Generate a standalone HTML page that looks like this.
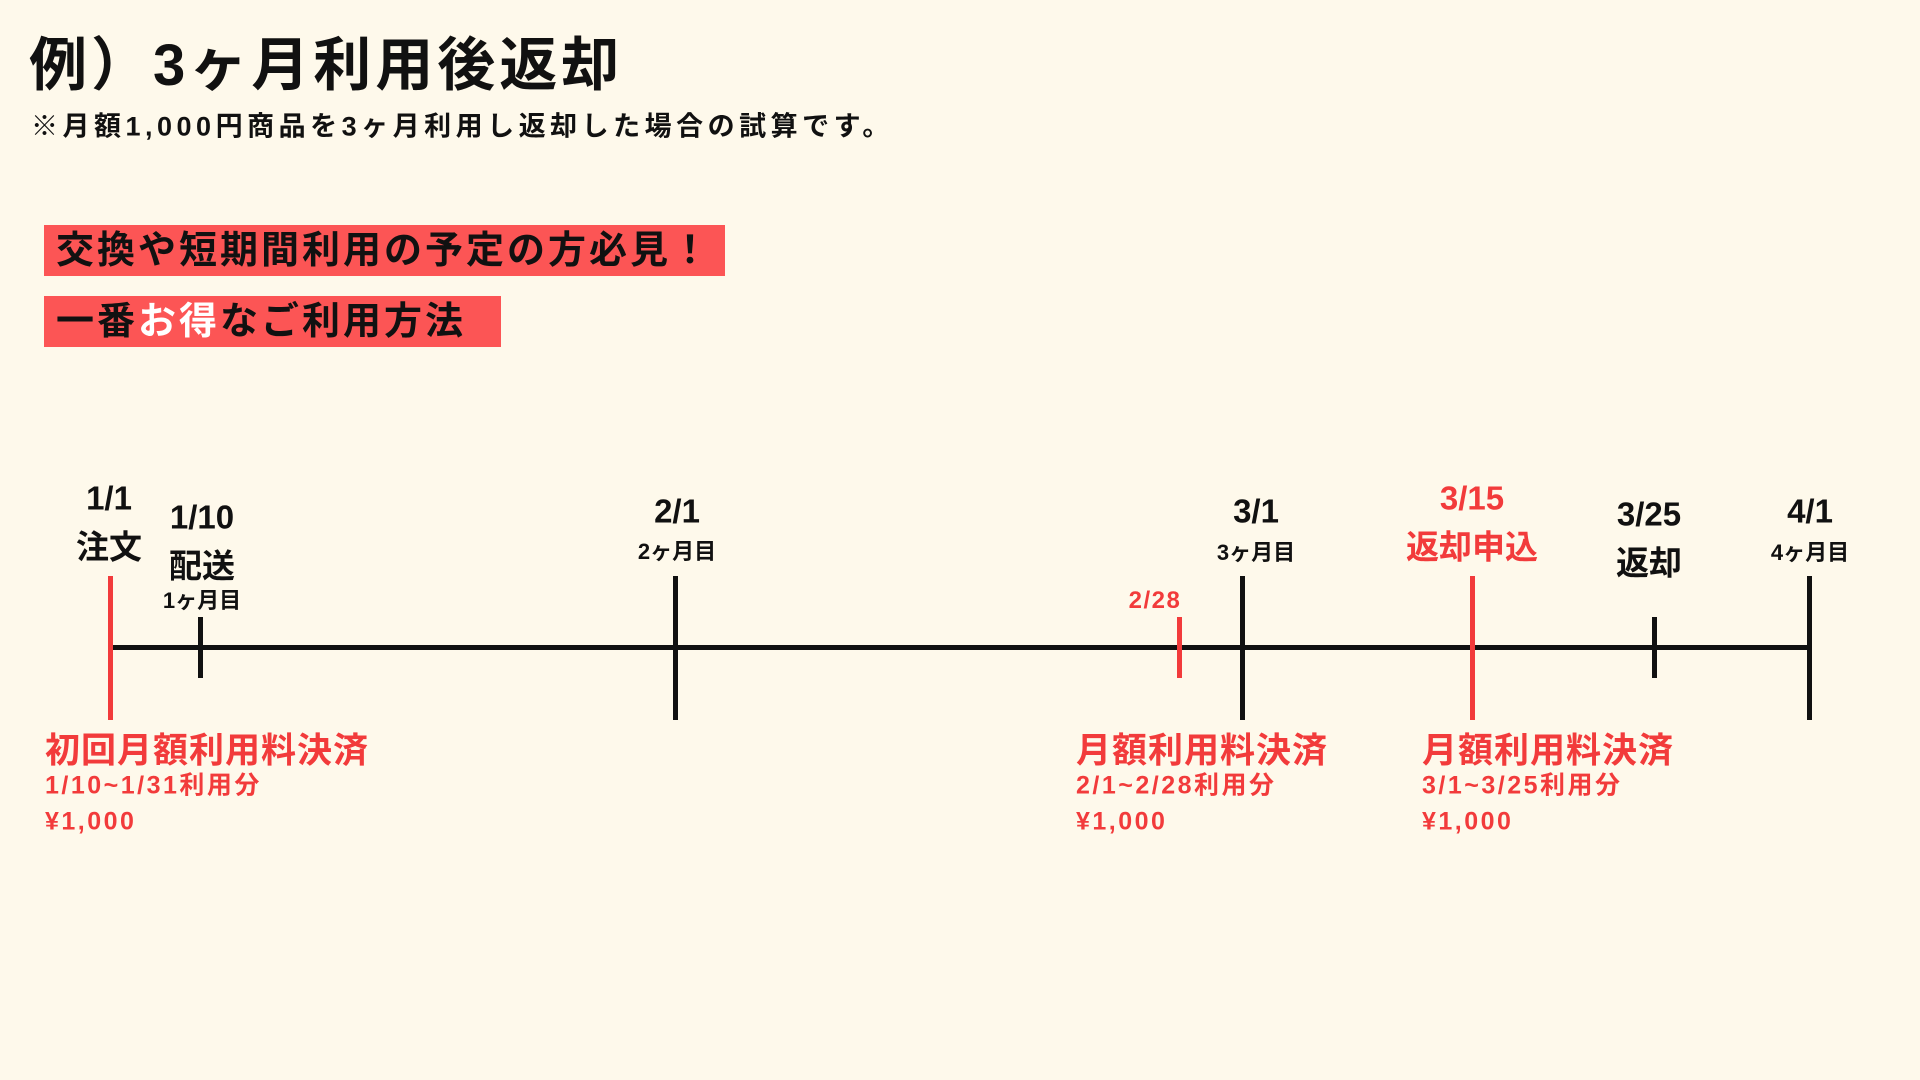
<!DOCTYPE html>
<html><head><meta charset="utf-8"><style>
body{margin:0;width:1920px;height:1080px;background:#fef9eb;position:relative;overflow:hidden;font-family:"Liberation Sans","Noto Sans CJK JP",sans-serif;font-weight:bold;color:#111}
.a{position:absolute;white-space:nowrap;line-height:1}
.c{transform:translate(-50%,-50%)}
.l{transform:translate(0,-50%)}
.r{color:#f23b3b}
.v{position:absolute;width:5px;margin-left:-2px;background:#111}
.box{position:absolute;background:#fc5555;height:51px;left:44px;font-size:38px;line-height:53px;padding-left:12px;box-sizing:border-box;letter-spacing:3px;white-space:nowrap;color:#111}
</style></head><body>
<div class="a l" style="left:29px;top:66px;font-size:58px;letter-spacing:4px">例）3ヶ月利用後返却</div>
<div class="a l" style="left:31px;top:127px;font-size:27px;letter-spacing:4.5px">※月額1,000円商品を3ヶ月利用し返却した場合の試算です。</div>
<div class="box" style="top:225px;width:681px">交換や短期間利用の予定の方必見！</div>
<div class="box" style="top:296px;width:457px"><span style="display:inline-block">一番</span><span style="display:inline-block;color:#ffffff">お得</span><span style="display:inline-block">なご利用方法</span></div>

<div style="position:absolute;left:110px;width:1700px;top:645px;height:5px;background:#111"></div>
<div class="v" style="left:110px;top:576px;height:144px;background:#f23b3b"></div>
<div class="v" style="left:200px;top:617px;height:61px"></div>
<div class="v" style="left:675px;top:576px;height:144px"></div>
<div class="v" style="left:1179px;top:617px;height:61px;background:#f23b3b"></div>
<div class="v" style="left:1242px;top:576px;height:144px"></div>
<div class="v" style="left:1472px;top:576px;height:144px;background:#f23b3b"></div>
<div class="v" style="left:1654px;top:617px;height:61px"></div>
<div class="v" style="left:1809px;top:576px;height:144px"></div>

<div class="a c" style="left:109px;top:498px;font-size:33px">1/1</div>
<div class="a c" style="left:109px;top:547px;font-size:33px">注文</div>
<div class="a c" style="left:202px;top:517px;font-size:33px">1/10</div>
<div class="a c" style="left:202px;top:566px;font-size:33px">配送</div>
<div class="a c" style="left:202px;top:601px;font-size:22px">1ヶ月目</div>
<div class="a c" style="left:677px;top:511px;font-size:33px">2/1</div>
<div class="a c" style="left:677px;top:552px;font-size:22px">2ヶ月目</div>
<div class="a c r" style="left:1155px;top:601px;font-size:24px;letter-spacing:1.5px">2/28</div>
<div class="a c" style="left:1256px;top:511px;font-size:33px">3/1</div>
<div class="a c" style="left:1256px;top:553px;font-size:22px">3ヶ月目</div>
<div class="a c r" style="left:1472px;top:498px;font-size:33px">3/15</div>
<div class="a c r" style="left:1472px;top:547px;font-size:33px">返却申込</div>
<div class="a c" style="left:1649px;top:514px;font-size:33px">3/25</div>
<div class="a c" style="left:1649px;top:563px;font-size:33px">返却</div>
<div class="a c" style="left:1810px;top:553px;font-size:22px">4ヶ月目</div>
<div class="a c" style="left:1810px;top:511px;font-size:33px">4/1</div>

<div class="a l r" style="left:45px;top:751px;font-size:35px;letter-spacing:1px">初回月額利用料決済</div>
<div class="a l r" style="left:45px;top:786px;font-size:25px;letter-spacing:2.5px">1/10~1/31利用分</div>
<div class="a l r" style="left:45px;top:822px;font-size:25px;letter-spacing:2.5px">¥1,000</div>
<div class="a l r" style="left:1076px;top:751px;font-size:35px;letter-spacing:1px">月額利用料決済</div>
<div class="a l r" style="left:1076px;top:786px;font-size:25px;letter-spacing:2.5px">2/1~2/28利用分</div>
<div class="a l r" style="left:1076px;top:822px;font-size:25px;letter-spacing:2.5px">¥1,000</div>
<div class="a l r" style="left:1422px;top:751px;font-size:35px;letter-spacing:1px">月額利用料決済</div>
<div class="a l r" style="left:1422px;top:786px;font-size:25px;letter-spacing:2.5px">3/1~3/25利用分</div>
<div class="a l r" style="left:1422px;top:822px;font-size:25px;letter-spacing:2.5px">¥1,000</div>
</body></html>
